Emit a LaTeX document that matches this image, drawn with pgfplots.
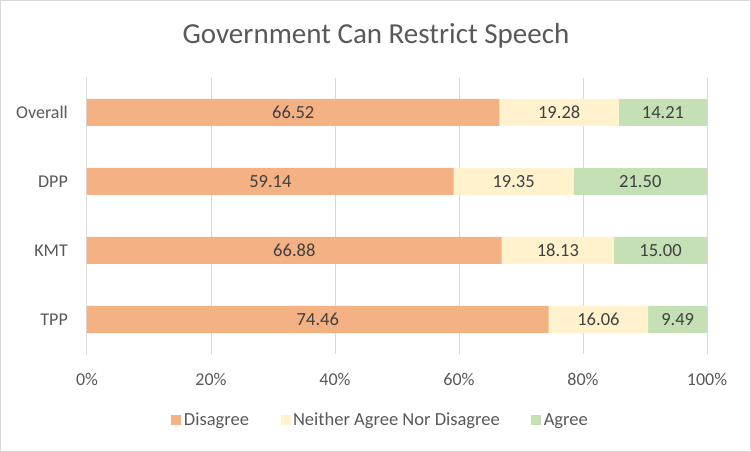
\documentclass[border=0pt]{standalone}
\usepackage{pgfplots}
\usepackage{pgfplotstable}
\pgfplotsset{compat=1.18}
\usepackage{fontspec}
\setmainfont{Carlito}

\definecolor{disagree}{HTML}{F4B183}
\definecolor{neither}{HTML}{FFF2CC}
\definecolor{agree}{HTML}{C5E0B4}
\definecolor{gridgray}{HTML}{D9D9D9}
\definecolor{txtgray}{HTML}{595959}
\definecolor{lblgray}{HTML}{404040}

\pgfplotstableread{
y disagree neither agree
0 66.52 19.28 14.21
1 59.14 19.35 21.50
2 66.88 18.13 15.00
3 74.46 16.06 9.49
}\speech
% centres of the segments, for the value labels
\pgfplotstablecreatecol[expr={\thisrow{disagree}/2}]{m1}\speech
\pgfplotstablecreatecol[expr={\thisrow{disagree}+\thisrow{neither}/2}]{m2}\speech
\pgfplotstablecreatecol[expr={\thisrow{disagree}+\thisrow{neither}+\thisrow{agree}/2}]{m3}\speech

\pgfplotsset{
  chartbox/.style={
    at={(87bp,374bp)}, anchor=north west,
    scale only axis, width=620bp, height=276bp,
    y dir=reverse,
    xmin=0, xmax=100, ymin=-0.5, ymax=3.5,
    /pgf/number format/assume math mode=true,
  },
  vlabel/.style={draw=none, mark=none, nodes near coords={\pgfmathprintnumber[fixed,fixed zerofill,precision=2,assume math mode=true]{\pgfplotspointmeta}},
    point meta=explicit,
    every node near coord/.append style={anchor=center, inner sep=0pt, font=\fontsize{18.5bp}{22bp}\selectfont, text=lblgray}},
}

\begin{document}
\begin{tikzpicture}
  \useasboundingbox (0,0) rectangle (751bp,452bp);
  \fill[white] (0,0) rectangle (751bp,452bp);
  \draw[gridgray, line width=1bp] (0.5bp,0.5bp) rectangle (750.5bp,451.5bp);
  \node[font=\fontsize{29bp}{34bp}\selectfont, text=txtgray] at (376bp,416bp) {Government Can Restrict Speech};
  \begin{axis}[
    chartbox,
    xbar stacked, bar width=27bp,
    xtick={0,20,...,100},
    xticklabel={\pgfmathprintnumber{\tick}\%},
    ytick={0,1,2,3},
    yticklabels={Overall,DPP,KMT,TPP},
    major tick length=0,
    axis line style={draw=none},
    xmajorgrids, major grid style={gridgray, line width=1bp},
    tick label style={font=\fontsize{18bp}{21bp}\selectfont, text=txtgray},
    xticklabel style={anchor=center, yshift=-25bp},
    yticklabel style={anchor=east, inner sep=0pt, xshift=-19bp},
    legend image code/.code={\fill[#1] (0bp,-5bp) rectangle (10bp,5bp);},
    legend columns=-1,
    legend style={draw=none, fill=none, at={(0.474,-0.239)}, anchor=center,
      font=\fontsize{18.5bp}{22bp}\selectfont, text=txtgray,
      /tikz/every even column/.append style={column sep=29bp},
      nodes={inner sep=2.5bp}},
  ]
    \addplot[fill=disagree, draw=none] table[x=disagree, y=y] {\speech};
    \addplot[fill=neither, draw=none] table[x=neither, y=y] {\speech};
    \addplot[fill=agree, draw=none] table[x=agree, y=y] {\speech};
    \legend{Disagree, Neither Agree Nor Disagree, Agree}
  \end{axis}
  \begin{axis}[chartbox, hide axis]
    \addplot[vlabel] table[x=m1, y=y, meta=disagree] {\speech};
    \addplot[vlabel] table[x=m2, y=y, meta=neither] {\speech};
    \addplot[vlabel] table[x=m3, y=y, meta=agree] {\speech};
  \end{axis}
\end{tikzpicture}
\end{document}
